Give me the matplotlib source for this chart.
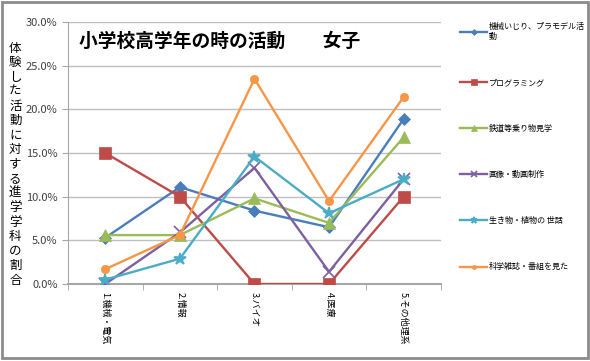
import matplotlib
matplotlib.use('Agg')
import matplotlib.pyplot as plt
from matplotlib.patches import Rectangle
from matplotlib.ticker import PercentFormatter

plt.rcParams['font.family'] = ['Noto Sans CJK JP', 'DejaVu Sans']

# data (percent)
categories = ['1.機械・電気', '2.情報', '3.バイオ', '4.医療', '5.その他理系']
kikai = [5.3, 11.1, 8.4, 6.5, 18.9]
program = [15.0, 10.0, 0.0, 0.0, 10.0]
tetsudo = [5.6, 5.6, 9.8, 7.0, 16.8]
gazou = [0.0, 5.9, 13.3, 1.4, 12.0]
ikimono = [0.5, 2.9, 14.6, 8.1, 12.0]
kagaku = [1.7, 5.6, 23.5, 9.5, 21.4]

labels = ['機械いじり、プラモデル活\n動', 'プログラミング', '鉄道等乗り物見学',
          '画像・動画制作', '生き物・植物の 世話', '科学雑誌・番組を見た']
series = [kikai, program, tetsudo, gazou, ikimono, kagaku]
colors = ['#4A7EBB', '#BE4B48', '#9BBB59', '#7D60A0', '#4BACC6', '#F79646']
markers = ['D', 's', '^', 'x', '*', 'o']
msizes = [6, 8, 8, 8, 9, 6]

fig = plt.figure(figsize=(5.9, 3.61), dpi=100)
ax = fig.add_axes([0.1153, 0.2133, 0.632, 0.7257])

x = range(len(categories))
handles = []
for vals, lab, c, m, ms in zip(series, labels, colors, markers, msizes):
    h, = ax.plot(x, vals, color=c, lw=1.7, marker=m, ms=ms, label=lab,
                 markeredgewidth=1.2 if m in ('x', '*') else 0.5, zorder=3)
    handles.append(h)

ax.set_xlim(-0.5, len(categories) - 0.5)
ax.set_ylim(0, 30)
ax.set_yticks([0, 5, 10, 15, 20, 25, 30])
ax.yaxis.set_major_formatter(PercentFormatter(decimals=1))
ax.grid(axis='y', color='#BFBFBF', lw=1)
ax.set_axisbelow(True)
for s in ['top', 'right']:
    ax.spines[s].set_visible(False)
ax.spines['left'].set_color('#A6A6A6')
ax.spines['bottom'].set_color('#A6A6A6')
ax.spines['bottom'].set_linewidth(1.5)
ax.tick_params(axis='y', labelsize=8, colors='#404040', length=4, color='#A6A6A6')

ax.set_xticks(list(x))
ax.set_xticklabels(categories, rotation=270, fontsize=6.5, va='top', ha='center')
ax.set_xticks([i + 0.5 for i in range(-1, len(categories))], minor=True)
ax.tick_params(axis='x', which='major', length=0, pad=6)
ax.tick_params(axis='x', which='minor', length=4, color='#A6A6A6')

ax.text(0.03, 0.925, '小学校高学年の時の活動　　女子', transform=ax.transAxes,
        fontsize=13.5, fontweight='bold', va='center', ha='left',
        bbox=dict(facecolor='white', edgecolor='none', pad=2), zorder=4)

fig.text(0.026, 0.545, '\n'.join('体験した活動に対する進学学科の割合'),
         fontsize=9, ha='center', va='center', linespacing=1.15)

leg = fig.legend(handles=handles, loc='upper left', bbox_to_anchor=(0.768, 0.96),
                 fontsize=5.8, frameon=False, handlelength=3.3, labelspacing=4.6,
                 handletextpad=0.2, markerscale=0.5)

fig.patches.append(Rectangle((0.004, 0.008), 0.992, 0.986, transform=fig.transFigure,
                             fill=False, edgecolor='#8C8C8C', lw=2))

fig.savefig('out.png', dpi=100)
